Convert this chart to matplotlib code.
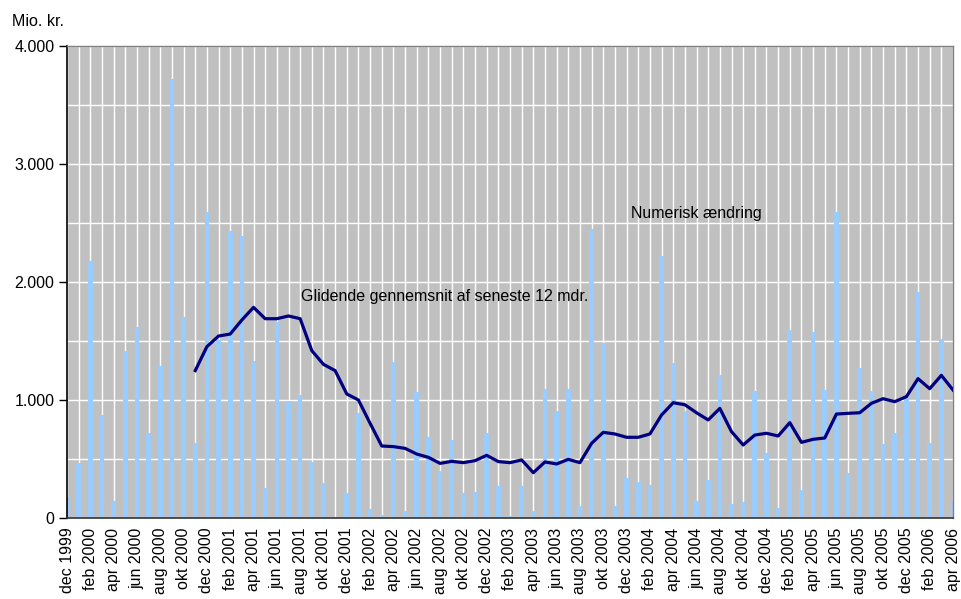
import matplotlib
matplotlib.use("Agg")
import matplotlib.pyplot as plt
import numpy as np

plt.rcParams['font.family'] = ['Liberation Sans', 'DejaVu Sans']

month_names = ["jan", "feb", "mar", "apr", "maj", "jun", "jul", "aug", "sep", "okt", "nov", "dec"]
months = ["dec 1999"] + [f"{m} {y}" for y in range(2000, 2006) for m in month_names] + \
         [f"{m} 2006" for m in month_names[:4]]

numerisk = [180, 469, 2178, 873, 147, 1415, 1621, 723, 1291, 3718, 1706, 633, 2596, 1508,
            2432, 2390, 1331, 257, 1664,
            994, 1042, 475, 299, 10, 215, 887, 76, 25, 1325, 62, 1071, 689, 401, 661, 215,
            223, 723, 271,
            17, 271, 59, 1090, 907, 1096, 102, 2446, 1480, 102, 336, 308, 280, 2220, 1311,
            907, 144, 322, 1212,
            119, 136, 1076, 548, 82, 1593, 237, 1576, 1085, 2596, 379, 1268, 1076, 627, 718,
            1028, 1915, 633, 1514, 138]

glidende = [None] * 11 + [1249, 1452, 1542, 1559, 1678, 1785, 1689, 1689, 1712,
            1689, 1418, 1302, 1249, 1051, 1000, 802, 610, 605, 590, 542, 514, 463, 480, 469,
            486, 531, 478,
            469, 492, 384, 475, 458, 497, 469, 633, 726, 712, 684, 684, 712, 873, 977, 960,
            892, 831, 929,
            732, 619, 703, 718, 695, 808, 641, 667, 678, 881, 887, 892, 972, 1011, 986, 1028,
            1181, 1096, 1209, 1085]

y_ticks = [0, 1000, 2000, 3000, 4000]
y_ticklabels = ["0", "1.000", "2.000", "3.000", "4.000"]

x = np.arange(len(months))
gl = np.array([np.nan if v is None else v for v in glidende], dtype=float)

fig = plt.figure(figsize=(9.61, 5.99), dpi=100)
ax = fig.add_axes([67 / 961, 1 - 518 / 599, (953 - 67) / 961, (518 - 46) / 599])
ax.set_facecolor("#C0C0C0")

ax.bar(x, numerisk, width=0.4, color="#99CCFF", zorder=2)
ax.plot(x, gl, color="#000080", linewidth=2.3, zorder=3)

ax.set_xlim(0, len(months) - 1)
ax.set_ylim(0, 4000)

fs = 11.5
ax.set_yticks(y_ticks)
ax.set_yticklabels(y_ticklabels, fontsize=fs)
ax.set_yticks(np.arange(0, 4001, 500), minor=True)
ax.set_xticks(x[::2])
ax.set_xticklabels(months[::2], rotation=90, fontsize=fs, va="top")
ax.set_xticks(x, minor=True)

ax.grid(True, which="both", color="white", linewidth=1, zorder=1)
ax.set_axisbelow(True)
ax.tick_params(axis="y", which="major", length=6, width=1, color="black", pad=3)
ax.tick_params(axis="y", which="minor", length=0)
ax.tick_params(axis="x", which="both", length=0, pad=7)

for s in ["top", "right"]:
    ax.spines[s].set_color("#808080")
    ax.spines[s].set_linewidth(1)
ax.spines["left"].set_color("black")
ax.spines["bottom"].set_color("#333333")
ax.spines["left"].set_linewidth(1.2)
ax.spines["bottom"].set_linewidth(1.2)

fig.text(12 / 961, 1 - 22 / 599, "Mio. kr.", fontsize=fs, va="center", ha="left")
ax.text(20.1, 1880, "Glidende gennemsnit af seneste 12 mdr.", fontsize=fs,
        ha="left", va="center", zorder=4)
ax.text(48.4, 2580, "Numerisk ændring", fontsize=fs, ha="left", va="center", zorder=4)

fig.savefig("out.png", dpi=100)
